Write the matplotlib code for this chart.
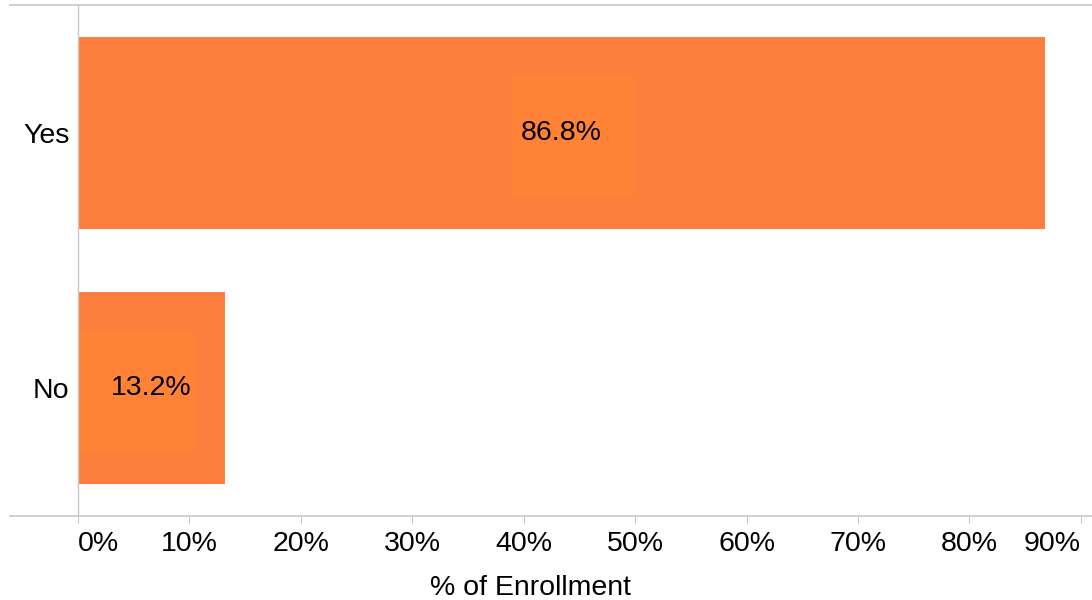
import matplotlib.pyplot as plt
from matplotlib.patches import Rectangle
from matplotlib.lines import Line2D

categories = ["No", "Yes"]
values = [13.2, 86.8]
ticks = [0, 10, 20, 30, 40, 50, 60, 70, 80, 90]

bar_color = "#fe7f3d"
box_color = "#ff8237"
grid_color = "#c8c8c8"

plt.rcParams["font.family"] = ["Liberation Sans", "DejaVu Sans"]

fig = plt.figure(figsize=(10.92, 6), dpi=100)
ax = fig.add_axes([78 / 1092, 84 / 600, (1092 - 78) / 1092, 511 / 600])

ypos = list(range(len(categories)))
ax.barh(ypos, values, height=0.75, color=bar_color, zorder=2)

for y, v in zip(ypos, values):
    # lighter label box behind the value text
    cx = v / 2
    x0 = cx - 4.4 if cx > 10 else 0
    w = 11 if cx > 10 else 10.5
    ax.add_patch(Rectangle((x0, y - 0.25), w, 0.475, color=box_color, zorder=3, lw=0))
    ax.text(cx, y, f"{v:.1f}%", ha="center", va="center", fontsize=20.5, color="black", zorder=4)

ax.set_xlim(0, 91.0)
ax.set_ylim(-0.5, 1.5)
ax.set_yticks(ypos)
ax.set_yticklabels(categories, fontsize=20.5)
ax.set_xticks(ticks)
ax.set_xticklabels([f"{t}%" for t in ticks], fontsize=20.5)
ax.tick_params(axis="y", length=0, pad=6)
ax.tick_params(axis="x", length=5, color=grid_color, pad=6)
ax.get_xticklabels()[0].set_horizontalalignment("left")
ax.get_xticklabels()[-1].set_horizontalalignment("right")

for s in ["top", "right", "bottom"]:
    ax.spines[s].set_visible(False)
ax.spines["left"].set_color(grid_color)
ax.spines["left"].set_linewidth(1)
ax.spines["left"].set_zorder(5)

# full-width rules at the top and bottom of the plot area
fig.add_artist(Line2D([10 / 1092, 1], [595 / 600, 595 / 600], color=grid_color, lw=1.2))
fig.add_artist(Line2D([10 / 1092, 1], [84 / 600, 84 / 600], color=grid_color, lw=1.2))

fig.text(530 / 1092, 12 / 600, "% of Enrollment", ha="center", va="center", fontsize=20.5)

fig.savefig("out.png", dpi=100)
